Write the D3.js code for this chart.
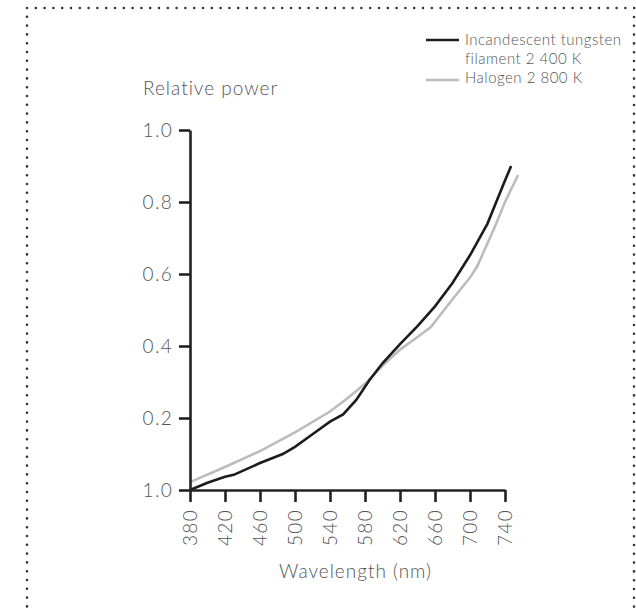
<!DOCTYPE html>
<html>
<head>
<meta charset="utf-8">
<script src="https://cdn.jsdelivr.net/npm/d3@7"></script>
<style>
    body { margin: 0; background: #fff; }
    text { font-family: Lato, 'Open Sans', sans-serif; font-weight: 300; fill: #555; }
    .axis path, .axis line { stroke: #222; stroke-width: 2.6; }
</style>
</head>
<body>
<div class="chart-container"></div>
<script>
// wavelength (nm) / relative power
const tungstenWavelength = [380, 400, 420, 430, 460, 486, 500, 520, 540, 555, 570, 585, 600, 620, 640, 660, 680, 700, 720, 730, 740, 747];
const tungstenPower = [0.0, 0.02, 0.037, 0.042, 0.075, 0.10, 0.12, 0.155, 0.19, 0.21, 0.25, 0.305, 0.352, 0.405, 0.455, 0.51, 0.575, 0.652, 0.74, 0.80, 0.86, 0.90];
const halogenWavelength = [380, 420, 460, 500, 540, 560, 580, 600, 620, 640, 655, 680, 700, 708, 730, 740, 755];
const halogenPower = [0.022, 0.064, 0.108, 0.16, 0.218, 0.255, 0.295, 0.345, 0.39, 0.425, 0.452, 0.53, 0.59, 0.62, 0.74, 0.80, 0.875];
const xTicks = [380, 420, 460, 500, 540, 580, 620, 660, 700, 740];
const yTicks = [0, 0.2, 0.4, 0.6, 0.8, 1.0];
const yTickLabels = ['1.0', '0.2', '0.4', '0.6', '0.8', '1.0'];
const seriesNames = ['Incandescent tungsten', 'filament 2 400 K', 'Halogen 2 800 K'];

const svg_width = 636;
const svg_height = 615;
const chart_margin = { top: 130, right: 131, bottom: 125, left: 190 };
const chart_width = svg_width - (chart_margin.left + chart_margin.right);
const chart_height = svg_height - (chart_margin.top + chart_margin.bottom);

const svg = d3.select('.chart-container')
    .append('svg')
    .attr('width', svg_width)
    .attr('height', svg_height);

// dotted frame
const dots = svg.append('g')
    .attr('fill', 'none')
    .attr('stroke', '#333')
    .attr('stroke-width', 2.6)
    .attr('stroke-linecap', 'round')
    .attr('stroke-dasharray', '0 8.8');
dots.append('path').attr('d', 'M27,8H636');
dots.append('path').attr('d', 'M27,16.8V615');
dots.append('path').attr('d', 'M634,17V615');

const this_svg = svg.append('g')
    .attr('transform', `translate(${chart_margin.left},${chart_margin.top})`);

const xScale = d3.scaleLinear([380, 740], [0, chart_width]);
const yScale = d3.scaleLinear([0, 1], [chart_height, 0]);

const line = d3.line()
    .x(d => xScale(d[0]))
    .y(d => yScale(d[1]));

this_svg.append('path')
    .datum(d3.zip(halogenWavelength, halogenPower))
    .attr('fill', 'none')
    .attr('stroke', '#bcbcbc')
    .attr('stroke-width', 2.6)
    .attr('d', line);
this_svg.append('path')
    .datum(d3.zip(tungstenWavelength, tungstenPower))
    .attr('fill', 'none')
    .attr('stroke', '#1c1c1c')
    .attr('stroke-width', 2.6)
    .attr('d', line);

const xAxis = d3.axisBottom(xScale)
    .tickValues(xTicks)
    .tickSize(12)
    .tickSizeOuter(0);
const xAxisDraw = this_svg.append('g')
    .attr('class', 'x axis')
    .attr('transform', `translate(0,${chart_height})`)
    .call(xAxis);
xAxisDraw.selectAll('text')
    .attr('transform', 'rotate(-90)')
    .attr('x', -19)
    .attr('y', 0)
    .attr('dy', '0.35em')
    .attr('text-anchor', 'end')
    .style('font-size', '19px')
    .style('letter-spacing', '1.3px')
    .style('font-family', null);

const yAxis = d3.axisLeft(yScale)
    .tickValues(yTicks)
    .tickFormat((d, i) => yTickLabels[i])
    .tickSize(11)
    .tickSizeOuter(0)
    .tickPadding(6);
const yAxisDraw = this_svg.append('g')
    .attr('class', 'y axis')
    .call(yAxis);
yAxisDraw.selectAll('text')
    .style('font-size', '19px')
    .style('letter-spacing', '1.3px')
    .style('font-family', null);

this_svg.append('text')
    .attr('x', -47)
    .attr('y', -35)
    .style('font-size', '19px')
    .style('letter-spacing', '1px')
    .text('Relative power');

this_svg.append('text')
    .attr('x', chart_width / 2 + 8)
    .attr('y', chart_height + 88)
    .attr('text-anchor', 'middle')
    .style('font-size', '19px')
    .style('letter-spacing', '1px')
    .text('Wavelength (nm)');

// legend
const legend = svg.append('g')
    .attr('transform', 'translate(426,0)');
legend.append('line')
    .attr('x1', 0).attr('x2', 33)
    .attr('y1', 40).attr('y2', 40)
    .attr('stroke', '#1c1c1c')
    .attr('stroke-width', 2.6);
legend.append('line')
    .attr('x1', 0).attr('x2', 33)
    .attr('y1', 80).attr('y2', 80)
    .attr('stroke', '#bcbcbc')
    .attr('stroke-width', 2.6);
legend.selectAll('.legend-label')
    .data(seriesNames)
    .enter()
    .append('text')
    .attr('class', 'legend-label')
    .attr('x', 39)
    .attr('y', (d, i) => 45 + i * 19)
    .style('font-size', '15px')
    .style('letter-spacing', '0.5px')
    .text(d => d);
</script>
</body>
</html>
